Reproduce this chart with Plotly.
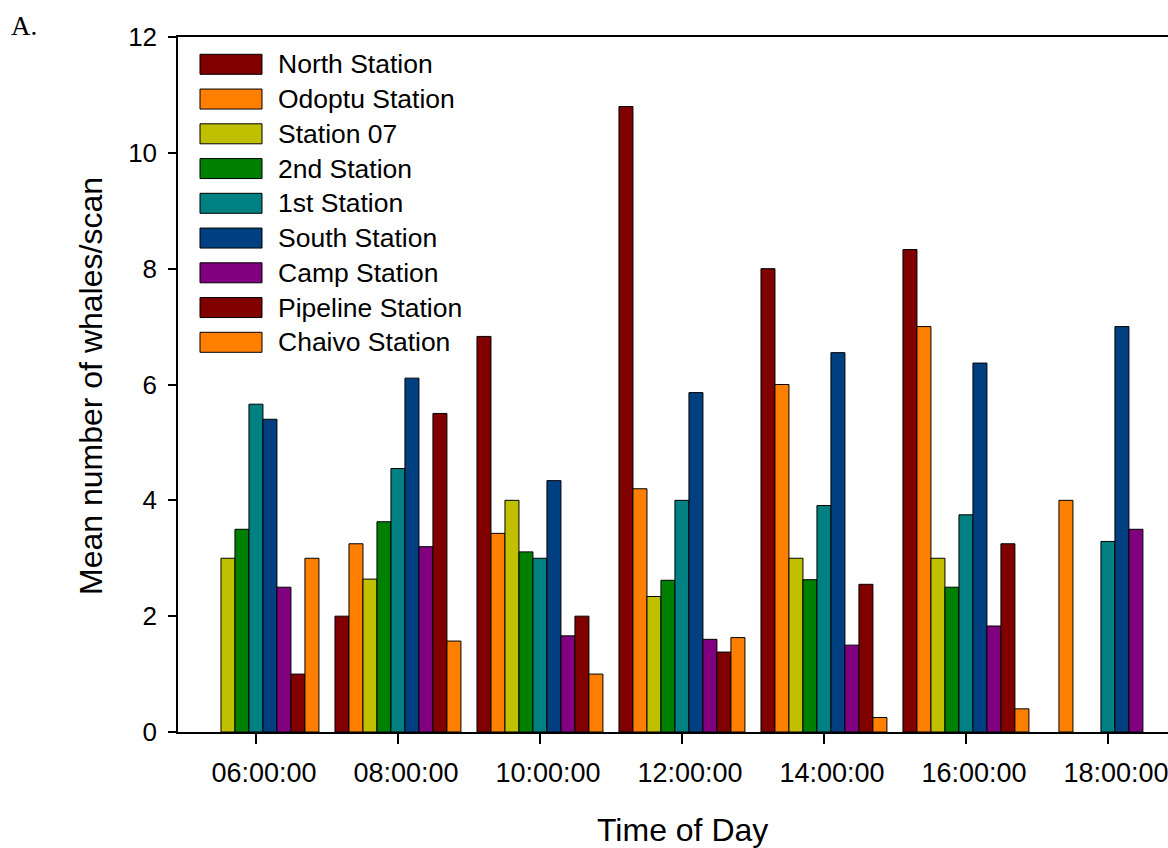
import plotly.graph_objects as go

times = ["06:00:00", "08:00:00", "10:00:00", "12:00:00", "14:00:00", "16:00:00", "18:00:00"]
stations = ["North Station", "Odoptu Station", "Station 07", "2nd Station", "1st Station",
            "South Station", "Camp Station", "Pipeline Station", "Chaivo Station"]

north = [None, 2.0, 6.83, 10.8, 8.0, 8.33, None]
odoptu = [None, 3.25, 3.43, 4.2, 6.0, 7.0, 4.0]
station07 = [3.0, 2.64, 4.0, 2.34, 3.0, 3.0, None]
second = [3.5, 3.63, 3.11, 2.62, 2.63, 2.5, None]
first = [5.66, 4.55, 3.0, 4.0, 3.91, 3.75, 3.29]
south = [5.4, 6.11, 4.34, 5.86, 6.55, 6.37, 7.0]
camp = [2.5, 3.2, 1.66, 1.6, 1.5, 1.83, 3.5]
pipeline = [1.0, 5.5, 2.0, 1.38, 2.55, 3.25, None]
chaivo = [3.0, 1.57, 1.0, 1.63, 0.25, 0.4, None]

series = [north, odoptu, station07, second, first, south, camp, pipeline, chaivo]
colors = ["#800000", "#FF8000", "#C0C000", "#008000", "#008080",
          "#004080", "#800080", "#800000", "#FF8000"]

W, H = 1168, 848
L, R, T, B = 178, 1168, 37, 732

def px(x):
    return (x - L) / (R - L)

def py(y):
    return (B - y) / (B - T)

FONT = "Liberation Sans, Arial, sans-serif"

fig = go.Figure()
for name, vals, col in zip(stations, series, colors):
    fig.add_trace(go.Bar(x=times, y=vals, name=name,
                         marker=dict(color=col, line=dict(color="black", width=1)),
                         showlegend=False))

shapes = []
annotations = []
for i, (name, col) in enumerate(zip(stations, colors)):
    top = 54.3 + 34.75 * i
    bot = top + 20
    shapes.append(dict(type="rect", xref="paper", yref="paper",
                       x0=px(200), x1=px(262), y0=py(bot), y1=py(top),
                       fillcolor=col, line=dict(color="black", width=1)))
    annotations.append(dict(xref="paper", yref="paper", x=px(276), y=py((top + bot) / 2),
                            text=name, showarrow=False, xanchor="left", yanchor="middle",
                            font=dict(family=FONT, size=26.5, color="black")))

annotations.append(dict(xref="paper", yref="paper", x=px(682), y=py(830), text="Time of Day",
                        showarrow=False, xanchor="center", yanchor="middle",
                        font=dict(family=FONT, size=32, color="black")))
annotations.append(dict(xref="paper", yref="paper", x=px(91), y=py(386),
                        text="Mean number of whales/scan", textangle=-90,
                        showarrow=False, xanchor="center", yanchor="middle",
                        font=dict(family=FONT, size=32, color="black")))
annotations.append(dict(xref="paper", yref="paper", x=px(9), y=py(26), text="A.",
                        showarrow=False, xanchor="left", yanchor="middle",
                        font=dict(family="Liberation Serif, Times New Roman, serif", size=27,
                                  color="black")))

fig.update_layout(
    width=W, height=H,
    margin=dict(l=L, r=W - R, t=T, b=H - B, pad=0),
    paper_bgcolor="white", plot_bgcolor="white",
    barmode="group", bargap=0.113, bargroupgap=0,
    shapes=shapes, annotations=annotations,
    showlegend=False,
    xaxis=dict(type="category", range=[-0.549, 6.423], showline=True, linecolor="black",
               linewidth=1.5, mirror=True, ticks="outside", ticklen=10, tickwidth=1.5,
               tickcolor="black", showgrid=False, zeroline=False,
               tickfont=dict(family=FONT, size=27, color="black"), ticklabelstandoff=6,
               ticklabelshift=8),
    yaxis=dict(range=[0, 12], tickvals=[0, 2, 4, 6, 8, 10, 12], showline=True,
               linecolor="black", linewidth=1.5, ticks="outside", ticklen=8, tickwidth=1.5,
               tickcolor="black", showgrid=False, zeroline=False,
               tickfont=dict(family=FONT, size=26, color="black"), ticklabelstandoff=6),
)

fig.write_html("out.html", config={"displayModeBar": False},
               post_script="document.body.style.margin='0';document.body.style.overflow='hidden';")
